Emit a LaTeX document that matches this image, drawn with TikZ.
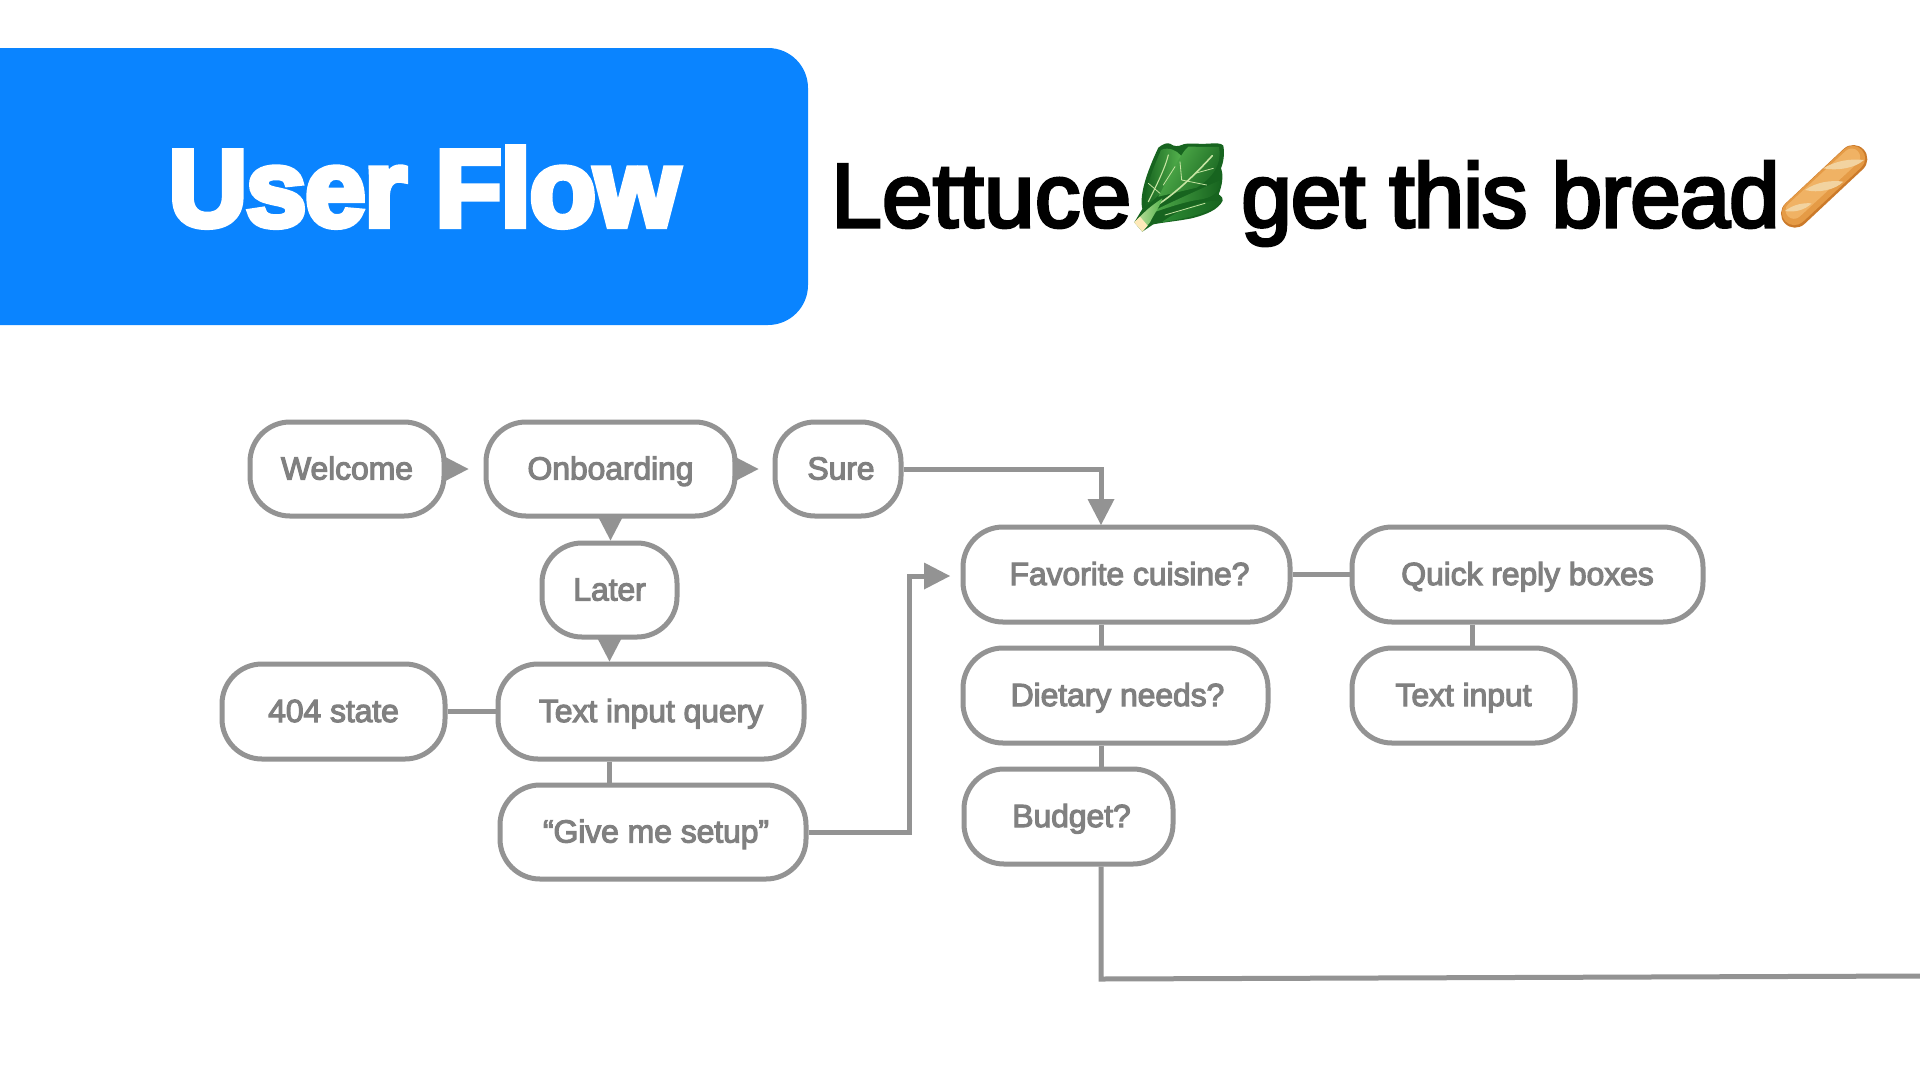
\documentclass[tikz,border=0pt]{standalone}
\usepackage{fontspec}
\usetikzlibrary{arrows.meta,calc}
\setmainfont{Liberation Sans}
\newfontfamily\heavyfont[FakeBold=5.5,LetterSpace=-1.3]{Liberation Sans Bold}
\newfontfamily\titlefont[FakeBold=3.4,LetterSpace=0.3]{Liberation Sans}
\newfontfamily\titletight[FakeBold=3.4,LetterSpace=-1.3]{Liberation Sans}
\newfontfamily\boxfont[FakeBold=3.5,LetterSpace=-0.4]{Liberation Sans}
\definecolor{flowblue}{HTML}{0A84FF}
\definecolor{strokegray}{HTML}{939393}
\definecolor{labelgray}{HTML}{808080}
\definecolor{leafdark}{HTML}{17641F}
\definecolor{leafmid}{HTML}{2C8A33}
\definecolor{leaflight}{HTML}{55B34E}
\definecolor{leafrib}{HTML}{C6E4A2}
\definecolor{breadedge}{HTML}{CB7A2A}
\definecolor{breadmid}{HTML}{E59B46}
\definecolor{breadlight}{HTML}{F0B264}
\definecolor{breadcut}{HTML}{F2D3A0}
\tikzset{
  flowbox/.style={draw=strokegray,line width=5pt,rounded corners=40pt,fill=white,text=labelgray,inner sep=0pt,text height=28pt,text depth=7pt,font=\boxfont\fontsize{32}{36}\selectfont},
  link/.style={draw=strokegray,line width=5pt},
  tipped/.style={link,-{Triangle[length=26pt,width=27pt,line width=0pt]}},
}
\newcommand{\flownode}[6]{\node[flowbox,minimum width=#4pt-#2pt,minimum height=#5pt-#3pt] (#1) at ({(#2+#4)/2},{(#3+#5)/2}) {#6};}
\begin{document}
\begin{tikzpicture}[x=1pt,y=-1pt]
\useasboundingbox (0,0) rectangle (1920,1080);
\fill[white] (0,0) rectangle (1920,1080);
% header
\fill[flowblue] (0,48) [rounded corners=40pt] -- (808,48) -- (808,325) [sharp corners] -- (0,325) -- cycle;
\node[anchor=base,text=white,inner sep=0pt,font=\heavyfont\fontsize{109}{112}\selectfont] (flowtitle) at (424,226) {User Flow};
\node[anchor=base west,text=black,inner sep=0pt,font=\titlefont\fontsize{91}{96}\selectfont] (lettuceword) at (831,227) {Lettuce};
\node[anchor=base west,text=black,inner sep=0pt,font=\titletight\fontsize{91}{96}\selectfont] (breadwords) at (1241,227) {get this bread};
% lettuce
\begin{scope}[shift={(1125,135)},x=0.3333pt,y=-0.3333pt]
\fill[leafdark] (52,222) .. controls (42,180) and (66,110) .. (100,38) .. controls (112,28) and (125,22) .. (135,26) .. controls (148,36) and (160,34) .. (170,30) .. controls (185,22) and (215,28) .. (250,26) .. controls (270,24) and (290,24) .. (295,32) .. controls (300,60) and (294,85) .. (288,100) .. controls (296,120) and (292,150) .. (281,178) .. controls (290,185) and (296,190) .. (293,197) .. controls (280,225) and (240,240) .. (200,250) .. controls (160,258) and (115,262) .. (85,268) -- (52,290) -- (28,262) -- cycle;
\shade[left color=leafdark,right color=leaflight] (60,215) .. controls (58,160) and (85,100) .. (108,45) .. controls (130,35) and (155,45) .. (168,62) .. controls (170,110) and (120,170) .. (60,215) -- cycle;
\shade[left color=leaflight,right color=leafdark,shading angle=60] (100,185) .. controls (130,130) and (170,50) .. (190,35) -- (282,36) .. controls (292,90) and (260,130) .. (215,158) -- cycle;
\shade[left color=leaflight,right color=leafdark] (60,240) .. controls (130,205) and (220,165) .. (287,135) .. controls (285,170) and (265,190) .. (215,195) .. controls (160,205) and (110,225) .. (60,240) -- cycle;
\shade[left color=leafmid,right color=leafdark] (110,262) .. controls (160,225) and (230,195) .. (291,196) .. controls (270,225) and (220,245) .. (110,262) -- cycle;
\draw[line width=1.6pt,leafrib,line cap=round] (70,225) .. controls (130,195) and (200,130) .. (262,62);
\draw[line width=1.1pt,leafrib,line cap=round] (70,200) .. controls (95,150) and (120,100) .. (130,60);
\draw[line width=0.8pt,leafrib,line cap=round] (105,175) -- (70,145) (115,150) -- (150,95) (170,135) -- (165,80) (210,115) -- (265,100) (170,135) -- (245,150) (120,240) -- (240,205);
\shade[left color=leafrib,right color=leaflight] (28,262) -- (50,240) .. controls (75,215) and (90,205) .. (112,190) .. controls (105,215) and (85,240) .. (75,262) -- (52,290) -- cycle;
\fill[yellow!40!orange!25!white] (28,262) -- (45,245) -- (68,272) -- (52,290) -- cycle;
\end{scope}
% baguette
\begin{scope}[shift={(1770,135)},x=0.3333pt,y=-0.3333pt]
\draw[line width=28pt,line cap=round,breadedge] (75,236) -- (250,72);
\draw[line width=25pt,line cap=round,breadmid] (73,233) -- (248,70);
\draw[line width=17pt,line cap=round,breadlight] (72,226) -- (245,66);
\fill[breadcut] (45,228) .. controls (70,208) and (100,203) .. (125,205) .. controls (105,225) and (75,233) .. (45,228) -- cycle;
\fill[breadcut] (105,165) .. controls (140,140) and (185,135) .. (220,140) .. controls (195,165) and (145,175) .. (105,165) -- cycle;
\fill[breadcut] (160,100) .. controls (195,78) and (240,70) .. (282,75) .. controls (255,100) and (200,108) .. (160,100) -- cycle;
\end{scope}
% nodes
\flownode{welcome}{250}{422}{444}{516}{Welcome}
\flownode{onboard}{486}{422}{735}{516}{Onboarding}
\flownode{sure}{775}{422}{901}{516}{\hspace*{6pt}Sure}
\flownode{later}{542}{543}{677}{637}{Later}
\flownode{textq}{498}{664}{804}{759}{Text input query}
\flownode{state}{222}{664}{445}{759}{404 state}
\flownode{give}{500}{785}{806}{879}{\hspace*{6pt}“Give me setup”}
\flownode{fav}{963}{527}{1290}{622}{\hspace*{6pt}Favorite cuisine?}
\flownode{quick}{1352}{527}{1703}{622}{Quick reply boxes}
\flownode{diet}{963}{648}{1268}{743}{\hspace*{4pt}Dietary needs?}
\flownode{tinput}{1352}{648}{1575}{743}{Text input}
\flownode{budget}{964}{769}{1173}{864}{\hspace*{6pt}Budget?}
% helper coordinates
\coordinate (favdrop) at (1101,525);
\coordinate (leftbend) at (909,576);
\coordinate (favin) at (950,576);
\coordinate (lowturn) at (1101,979);
\coordinate (offpage) at (1920,976);
\coordinate (quickdrop) at (1472,600);
% connectors
\draw[tipped,shorten >=15pt] (welcome.east) -- (onboard.west);
\draw[tipped,shorten >=14pt] (onboard.east) -- (sure.west);
\draw[tipped] (onboard.south) -- (onboard.south |- later.north);
\draw[tipped] (later.south) -- (later.south |- textq.north);
\draw[link] (state.east) -- (textq.west);
\draw[link] (textq.south -| later.south) -- (give.north -| later.south);
\draw[tipped] (sure.east) -| (favdrop);
\draw[tipped] (give.east) -| (leftbend) -- (favin);
\draw[link] (fav.east) -- (quick.west);
\draw[link] (fav.south -| favdrop) -- (diet.north -| favdrop);
\draw[link] (diet.south -| favdrop) -- (budget.north -| favdrop);
\draw[link] (quick.south -| quickdrop) -- (tinput.north -| quickdrop);
\draw[link] (budget.south -| favdrop) -- (lowturn) -- (offpage);
\end{tikzpicture}
\end{document}
